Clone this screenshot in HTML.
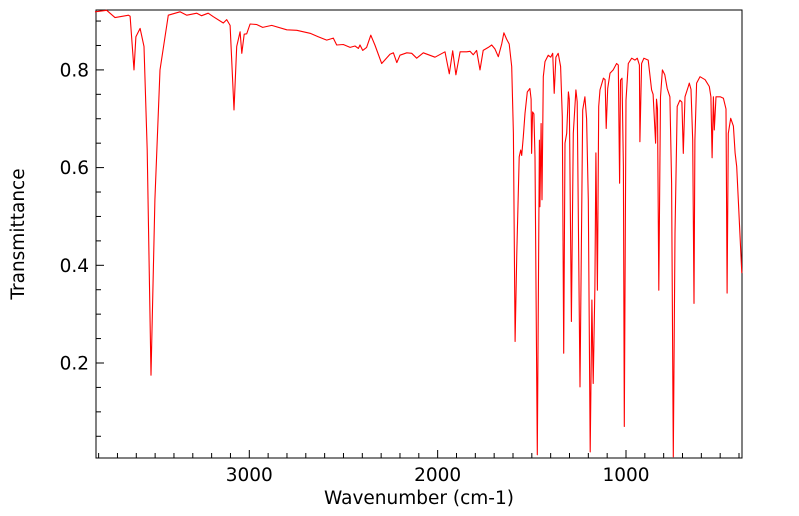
<!DOCTYPE html>
<html><head><meta charset="utf-8"><style>
body{margin:0;background:#fff;}
svg{display:block;font-family:"DejaVu Sans","Liberation Sans",sans-serif;}
</style></head><body>
<svg id="chart" width="799" height="516" viewBox="0 0 799 516" xmlns="http://www.w3.org/2000/svg">
<rect x="96" y="10" width="646" height="448" fill="none" stroke="#000" stroke-width="1"/>
<g id="ticks"></g>
<path id="line" fill="none" stroke="#ff0000" stroke-width="1.1" stroke-linejoin="round"/>
<text x="419" y="504" font-size="18.5" text-anchor="middle">Wavenumber (cm-1)</text>
<text transform="translate(24,234) rotate(-90)" font-size="18.5" text-anchor="middle">Transmittance</text>
</svg>
<script>
const wavenumbers=[3819,3757,3713,3642,3633,3612,3602,3580,3559,3542,3522,3501,3474,3430,3368,3332,3279,3253,3218,3191,3138,3120,3102,3081,3067,3049,3040,3027,3014,2996,2961,2929,2881,2801,2748,2677,2634,2589,2554,2536,2501,2465,2439,2421,2412,2398,2377,2355,2333,2297,2253,2235,2217,2200,2164,2138,2111,2076,2014,1961,1938,1920,1903,1881,1846,1828,1811,1793,1775,1758,1731,1713,1696,1678,1660,1648,1634,1620,1607,1598,1589,1580,1567,1559,1554,1545,1536,1524,1510,1504,1501,1496,1489,1483,1471,1460,1457,1451,1446,1439,1430,1413,1400,1389,1381,1372,1360,1347,1338,1331,1324,1315,1306,1301,1290,1280,1266,1259,1244,1230,1218,1209,1200,1190,1181,1174,1165,1160,1152,1145,1138,1120,1111,1105,1097,1085,1068,1050,1041,1034,1029,1021,1014,1009,1000,988,970,952,940,929,926,917,905,882,864,856,843,838,833,826,817,807,794,781,767,758,749,740,728,714,703,696,687,669,664,655,646,639,634,625,607,580,558,549,543,536,531,522,500,483,469,463,457,444,430,421,412,404,385];
const transmittance=[.919,.922,.907,.912,.91,.80,.868,.885,.848,.636,.175,.534,.80,.912,.919,.912,.916,.911,.916,.909,.896,.903,.891,.718,.848,.878,.834,.873,.874,.894,.893,.887,.891,.882,.881,.875,.868,.861,.865,.851,.852,.846,.849,.844,.851,.840,.846,.871,.851,.813,.832,.835,.815,.830,.835,.834,.824,.835,.826,.837,.792,.839,.790,.837,.837,.838,.831,.840,.800,.840,.846,.851,.843,.827,.853,.876,.863,.853,.807,.670,.244,.425,.622,.636,.625,.663,.711,.755,.762,.74,.629,.714,.710,.622,.012,.656,.52,.69,.534,.786,.817,.830,.826,.834,.752,.826,.834,.807,.704,.22,.65,.670,.755,.74,.285,.670,.759,.735,.151,.718,.745,.70,.534,.018,.329,.158,.356,.63,.349,.725,.759,.783,.78,.680,.762,.793,.800,.813,.81,.568,.779,.783,.602,.070,.738,.813,.824,.82,.824,.81,.653,.813,.824,.82,.759,.75,.65,.74,.72,.349,.745,.80,.79,.762,.745,.568,.008,.466,.725,.738,.734,.629,.745,.766,.773,.76,.656,.322,.656,.773,.786,.78,.766,.745,.62,.745,.677,.745,.745,.742,.72,.343,.67,.701,.685,.63,.602,.534,.384];
const yTickLabels=["0.2","0.4","0.6","0.8"];
const xTickLabels=["1000","2000","3000"];
const X=w=>249.3+(3000-w)*0.18835;
const Y=t=>460.7-t*488.5;
const ns="http://www.w3.org/2000/svg";
const line=document.getElementById('line');
line.setAttribute('d',wavenumbers.map((w,i)=>(i?'L':'M')+X(w).toFixed(1)+' '+Y(transmittance[i]).toFixed(1)).join(' '));
const g=document.getElementById('ticks');
function mk(tag,attrs){const e=document.createElementNS(ns,tag);for(const k in attrs)e.setAttribute(k,attrs[k]);g.appendChild(e);return e;}
for(let w=400;w<=3800;w+=100){const x=X(w);const major=w%1000===0;
 const t=mk('line',{x1:x,x2:x,y1:458,y2:major?450:453,stroke:'#000','stroke-width':1});
 
 }
xTickLabels.forEach(s=>{const t=mk('text',{x:X(+s),y:481,'font-size':18.5,'text-anchor':'middle'});t.textContent=s;
 
 });
for(let k=1;k<=18;k++){const v=k*0.05;const y=Y(v);if(y<10)continue;const major=k%4===0;
 const t=mk('line',{x1:96,x2:major?104:101,y1:y,y2:y,stroke:'#000','stroke-width':1});
 
 }
yTickLabels.forEach(s=>{const t=mk('text',{x:89,y:Y(+s)+6.5,'font-size':18.5,'text-anchor':'end'});t.textContent=s;
 
 });
</script>
</body></html>
